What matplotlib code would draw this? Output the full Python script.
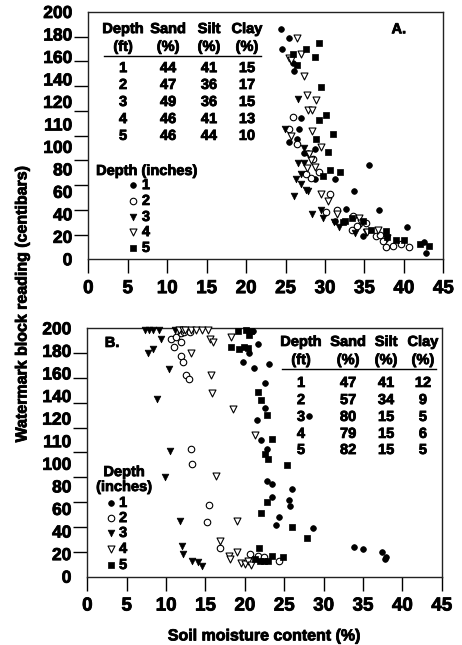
import matplotlib
matplotlib.use('Agg')
import matplotlib.pyplot as plt
import matplotlib.patheffects as pe
import matplotlib.text as mtext
import numpy as np

plt.rcParams['font.family'] = ['Liberation Sans', 'DejaVu Sans']
plt.rcParams['font.weight'] = 'bold'

# ---------------- data ----------------
x_ticks = [0, 5, 10, 15, 20, 25, 30, 35, 40, 45]
y_grid = [0, 20, 40, 60, 80, 100, 120, 140, 160, 180, 200]
y_tick_labels = ['0', '20', '40', '60', '80', '100', '110', '120', '140', '160', '180', '200']

depth_labels = ['1', '2', '3', '4', '5']

# Panel A
a1_x = [24.4, 25.4, 24.5, 26.0, 26.1, 27.0, 26.7, 26.4, 25.4, 27.3, 27.9, 28.8, 28.7, 31.3, 35.6, 33.7, 32.7, 36.9, 40.4, 34.8, 42.6, 42.8, 31.3]
a1_y = [186, 179, 170, 159, 152, 114, 105, 97, 95, 86, 86, 89, 65, 65, 76, 55, 41, 40, 26, 19, 14, 5, 31]
a2_x = [26.0, 25.5, 26.4, 28.5, 29.3, 28.2, 27.6, 30.6, 30.1, 31.5, 33.4, 33.6, 35.2, 36.5, 37.3, 37.8, 38.6, 39.7, 40.7, 34.0, 37.0]
a2_y = [115, 105, 93, 81, 71, 66, 69, 53, 38, 40, 24, 35, 29, 19, 15, 10, 11, 12, 10, 27, 20]
a3_x = [24.9, 27.3, 26.6, 27.3, 27.0, 26.3, 27.0, 27.6, 27.9, 26.1, 28.3, 29.5, 29.7, 31.1, 31.8, 33.8, 26.6, 35.2]
a3_y = [105, 90, 78, 78, 69, 65, 61, 56, 55, 51, 37, 40, 33, 30, 26, 21, 130, 22]
a4_x = [26.4, 27.0, 25.4, 25.7, 27.3, 27.7, 28.9, 27.8, 28.3, 28.4, 29.5, 27.7, 28.7, 28.2, 29.5, 30.4, 31.5, 34.3, 34.6, 36.7, 37.9, 35.3, 25.7, 28.0]
a4_y = [179, 166, 163, 161, 148, 133, 129, 121, 121, 104, 91, 74, 75, 80, 53, 47, 37, 33, 29, 24, 17, 22, 100, 85]
a5_x = [29.2, 27.6, 26.0, 26.5, 28.7, 29.5, 30.1, 29.2, 31.0, 28.9, 30.4, 30.6, 31.9, 29.8, 33.4, 32.3, 34.8, 35.8, 37.8, 37.9, 39.0, 40.0, 42.0, 43.2, 32.6]
a5_y = [175, 170, 166, 157, 164, 139, 117, 113, 101, 97, 87, 72, 71, 67, 33, 30, 31, 24, 23, 18, 16, 16, 12, 11, 31]

# Panel B
b1_x = [21.1, 21.7, 20.5, 19.8, 21.2, 23.1, 22.6, 22.6, 21.6, 22.1, 22.8, 28.2, 22.8, 23.5, 26.0, 23.5, 25.6, 25.7, 24.3, 24.0, 28.6, 33.9, 35.0, 37.4, 37.9, 37.8]
b1_y = [198, 187, 180, 173, 168, 171, 156, 136, 126, 110, 103, 129, 77, 75, 71, 64, 62, 57, 48, 42, 39, 24, 22, 20, 16, 14]
b2_x = [10.6, 11.2, 11.9, 11.9, 11.0, 12.3, 13.0, 11.9, 12.2, 12.5, 12.9, 13.2, 13.3, 15.5, 15.2, 16.8, 20.6, 21.7, 22.4, 24.3]
b2_y = [191, 193, 196, 189, 185, 197, 197, 178, 173, 162, 159, 103, 91, 58, 44, 23, 18, 17, 16, 13]
b3_x = [7.3, 7.8, 8.4, 9.1, 11.1, 11.7, 9.4, 7.7, 8.3, 10.4, 8.9, 10.5, 9.9, 11.8, 12.0, 12.1, 13.3, 14.0, 14.6]
b3_y = [199, 199, 199, 199, 199, 199, 191, 180, 183, 167, 143, 101, 80, 45, 25, 18, 13, 12, 9]
b4_x = [11.6, 12.1, 12.4, 13.2, 13.8, 14.5, 15.3, 15.6, 16.0, 18.3, 13.2, 15.7, 15.8, 18.5, 21.3, 16.3, 19.0, 16.9, 18.0, 18.1, 19.0, 19.5, 20.0, 20.4, 20.8]
b4_y = [199, 199, 199, 199, 199, 199, 199, 191, 189, 193, 180, 162, 148, 135, 114, 81, 45, 29, 17, 14, 20, 11, 10, 13, 9.5]
b5_x = [19.1, 20.1, 20.8, 20.5, 18.2, 19.3, 19.9, 20.4, 21.7, 22.1, 22.8, 23.4, 22.6, 23.0, 25.4, 22.8, 22.1, 26.0, 27.9, 21.8, 21.3, 21.9, 22.4, 22.9, 23.5, 24.8]
b5_y = [198, 199, 198, 195, 185, 183, 185, 184, 149, 142, 130, 111, 99, 95, 90, 60, 51, 40, 31, 23, 14, 13, 13, 13, 17, 16]

# Texture tables
tab_header1 = ['Depth', 'Sand', 'Silt', 'Clay']
tab_header2 = ['(ft)', '(%)', '(%)', '(%)']
tabA_depth = [1, 2, 3, 4, 5]
tabA_sand = [44, 47, 49, 46, 46]
tabA_silt = [41, 36, 36, 41, 44]
tabA_clay = [15, 17, 15, 13, 10]
tabB_depth = [1, 2, 3, 4, 5]
tabB_sand = [47, 57, 80, 79, 82]
tabB_silt = [41, 34, 15, 15, 15]
tabB_clay = [12, 9, 5, 6, 5]

# ---------------- styles ----------------
styles = [
    dict(marker='o', s=17, facecolors='black', edgecolors='black', linewidths=0.5),
    dict(marker='o', s=22, facecolors='white', edgecolors='black', linewidths=0.8),
    dict(marker='v', s=23, facecolors='black', edgecolors='black', linewidths=0.5),
    dict(marker='v', s=25, facecolors='white', edgecolors='black', linewidths=0.8),
    dict(marker='s', s=19, facecolors='black', edgecolors='black', linewidths=0.5),
]

fig = plt.figure(figsize=(4.62, 6.45), dpi=100)
axA = fig.add_axes([0.1911, 0.5980, 0.7684, 0.3834])
axB = fig.add_axes([0.1890, 0.1059, 0.7671, 0.3851])


def style_axes(ax):
    ax.set_xlim(0, 45)
    ax.set_ylim(0, 200)
    ax.set_xticks(x_ticks)
    ax.set_xticklabels([str(v) for v in x_ticks], fontsize=13.5, fontweight='bold')
    ax.tick_params(axis='x', direction='out', length=10, width=1, pad=5)
    ax.set_yticks(np.linspace(0, 200, len(y_tick_labels)))
    ax.set_yticklabels(y_tick_labels, fontsize=12.5, fontweight='bold')
    ax.tick_params(axis='y', which='major', length=0, pad=11.5)
    ax.set_yticks(y_grid, minor=True)
    ax.tick_params(axis='y', which='minor', direction='out', length=10, width=1)
    for sp in ax.spines.values():
        sp.set_linewidth(1)
        sp.set_color('#222222')


def draw_table(ax, cols, hy1, hy2, liney, linex, rowy, data, fs):
    for j in range(4):
        ax.text(cols[j], hy1, tab_header1[j], transform=ax.transAxes, ha='center', va='center', fontsize=fs, fontweight='bold')
        ax.text(cols[j], hy2, tab_header2[j], transform=ax.transAxes, ha='center', va='center', fontsize=fs, fontweight='bold')
    ax.plot(linex, [liney, liney], transform=ax.transAxes, color='black', lw=1, clip_on=False)
    for i in range(5):
        for j in range(4):
            ax.text(cols[j], rowy[i], str(data[j][i]), transform=ax.transAxes, ha='center', va='center', fontsize=fs, fontweight='bold')


def draw_legend(ax, mx, tx, ys):
    for i, st in enumerate(styles):
        ax.scatter([mx], [ys[i]], transform=ax.transAxes, clip_on=False, **st)
        ax.text(tx, ys[i], depth_labels[i], transform=ax.transAxes, ha='left', va='center', fontsize=10.5, fontweight='bold')


# Panel A
for xs, ys, st in zip([a1_x, a2_x, a3_x, a4_x, a5_x], [a1_y, a2_y, a3_y, a4_y, a5_y], styles):
    axA.scatter(xs, ys, clip_on=False, zorder=3, **st)
style_axes(axA)
draw_table(axA, [0.098, 0.225, 0.340, 0.447], 0.931, 0.859, 0.822, [0.044, 0.486],
           [0.773, 0.705, 0.636, 0.567, 0.499], [tabA_depth, tabA_sand, tabA_silt, tabA_clay], 10.5)
axA.text(0.875, 0.930, 'A.', transform=axA.transAxes, ha='center', va='center', fontsize=10.5, fontweight='bold')
axA.text(0.022, 0.357, 'Depth (inches)', transform=axA.transAxes, ha='left', va='center', fontsize=10.5, fontweight='bold')
draw_legend(axA, 0.126, 0.151, [0.300, 0.236, 0.171, 0.110, 0.046])

# Panel B
for xs, ys, st in zip([b1_x, b2_x, b3_x, b4_x, b5_x], [b1_y, b2_y, b3_y, b4_y, b5_y], styles):
    axB.scatter(xs, ys, clip_on=False, zorder=3, **st)
style_axes(axB)
draw_table(axB, [0.603, 0.736, 0.843, 0.947], 0.945, 0.872, 0.836, [0.549, 0.983],
           [0.780, 0.711, 0.643, 0.575, 0.510], [tabB_depth, tabB_sand, tabB_silt, tabB_clay], 10.5)
axB.text(0.070, 0.941, 'B.', transform=axB.transAxes, ha='center', va='center', fontsize=10.5, fontweight='bold')
axB.text(0.104, 0.421, 'Depth', transform=axB.transAxes, ha='center', va='center', fontsize=10.5, fontweight='bold')
axB.text(0.104, 0.361, '(inches)', transform=axB.transAxes, ha='center', va='center', fontsize=10.5, fontweight='bold')
draw_legend(axB, 0.067, 0.0895, [0.297, 0.236, 0.176, 0.112, 0.047])

axB.set_xlabel('Soil moisture content (%)', fontsize=11.5, fontweight='bold', labelpad=10)
fig.text(22 / 462, 1 - 303.5 / 645, 'Watermark block reading (centibars)', rotation=90,
         ha='center', va='center', fontsize=11.5, fontweight='bold')

# heavier text, like the original's heavy sans-serif
for t in fig.findobj(mtext.Text):
    t.set_path_effects([pe.withStroke(linewidth=0.6, foreground='black')])

fig.savefig('out.png', dpi=100)
